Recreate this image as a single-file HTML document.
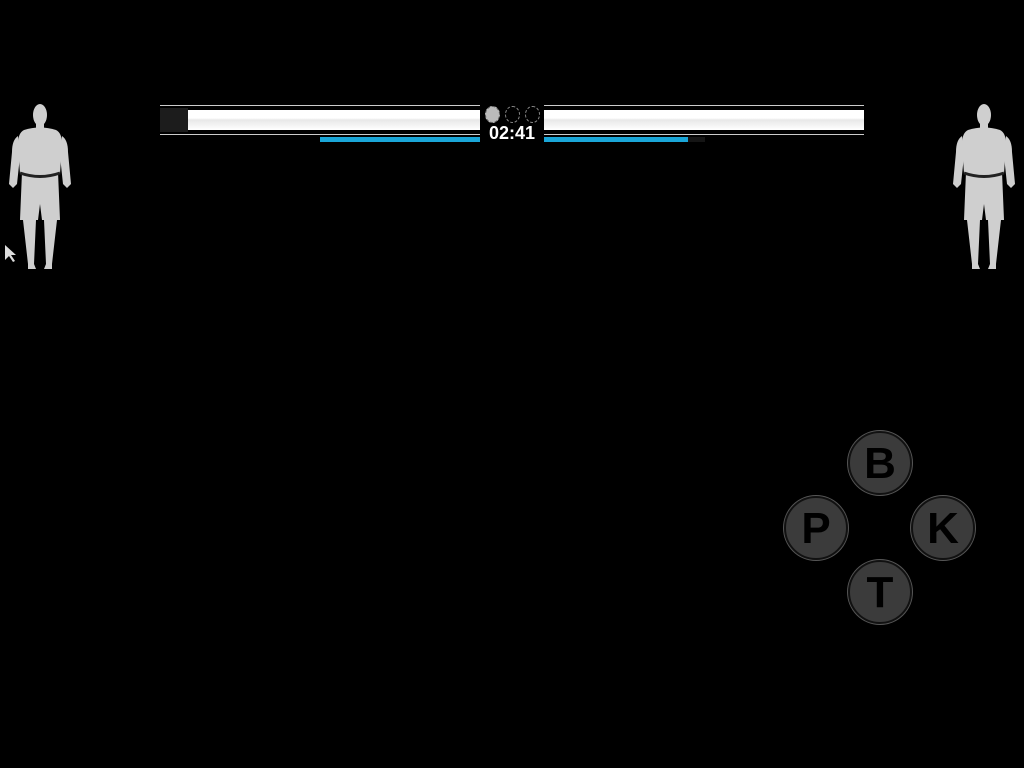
<!DOCTYPE html>
<html><head><style>
body{margin:0;background:#000;width:1024px;height:768px;overflow:hidden;position:relative;font-family:"Liberation Sans",sans-serif}
.a{position:absolute}
.btn{position:absolute;width:60px;height:60px;border-radius:50%;background:#3b3b3b;border:2px solid #111;box-shadow:0 0 0 1px #555;color:#000;font-size:44px;font-weight:bold;text-align:center;line-height:62px}
</style></head><body>
<div class="a" style="left:160px;top:105px;width:320px;height:28px;border-top:1px solid #ccc;border-bottom:1px solid #ccc;background:#000"></div>
<div class="a" style="left:160px;top:108px;width:28px;height:24px;background:#1c1c1c"></div>
<div class="a" style="left:188px;top:110px;width:292px;height:20px;background:linear-gradient(#fff 0,#fff 40%,#e8e8e8 50%,#fff 100%)"></div>
<div class="a" style="left:544px;top:105px;width:320px;height:28px;border-top:1px solid #ccc;border-bottom:1px solid #ccc;background:#000"></div>
<div class="a" style="left:544px;top:110px;width:320px;height:20px;background:linear-gradient(#fff 0,#fff 40%,#e8e8e8 50%,#fff 100%)"></div>
<div class="a" style="left:320px;top:137px;width:160px;height:5px;background:#1aa6d8"></div>
<div class="a" style="left:544px;top:137px;width:161px;height:5px;background:#151515"></div>
<div class="a" style="left:544px;top:137px;width:144px;height:5px;background:#1aa6d8"></div>
<div class="a" style="left:485px;top:106px;width:13px;height:15px;border-radius:50%;background:#bbb;border:1px dashed #666"></div>
<div class="a" style="left:505px;top:106px;width:13px;height:15px;border-radius:50%;border:1px dashed #888"></div>
<div class="a" style="left:525px;top:106px;width:13px;height:15px;border-radius:50%;border:1px dashed #888"></div>
<div class="a" style="left:480px;top:123px;width:64px;text-align:center;color:#fff;font-size:18px;font-weight:bold">02:41</div>
<svg class="a" style="left:0;top:100px" width="80" height="175" viewBox="0 0 80 175">
<g fill="#cfcfcf">
<ellipse cx="40" cy="15" rx="7" ry="11"/>
<rect x="36" y="22" width="8" height="8"/>
<path d="M24 30 Q40 25 56 30 Q62 33 62 44 L60 74 L20 74 L18 44 Q18 33 24 30Z"/>
<path d="M18 36 Q12 40 12 52 L9 84 L13 88 L17 84 L20 56Z"/>
<path d="M62 36 Q68 40 68 52 L71 84 L67 88 L63 84 L60 56Z"/>
<path d="M22 72 L58 72 L60 120 L42 120 L40 104 L38 120 L20 120Z"/>
<path d="M23 120 L36 120 L34 164 L36 169 L28 169 L28 164Z"/>
<path d="M44 120 L57 120 L52 164 L52 169 L44 169 L46 164Z"/>
</g>
<path d="M20 73 Q40 80 60 73" stroke="#222" stroke-width="3" fill="none"/>
<path d="M5 145 L5 160 L9 156 L13 162 L15 161 L11 155 L16 155Z" fill="#ddd"/>
</svg>
<svg class="a" style="left:944px;top:100px" width="80" height="175" viewBox="0 0 80 175">
<g fill="#cfcfcf">
<ellipse cx="40" cy="15" rx="7" ry="11"/>
<rect x="36" y="22" width="8" height="8"/>
<path d="M24 30 Q40 25 56 30 Q62 33 62 44 L60 74 L20 74 L18 44 Q18 33 24 30Z"/>
<path d="M18 36 Q12 40 12 52 L9 84 L13 88 L17 84 L20 56Z"/>
<path d="M62 36 Q68 40 68 52 L71 84 L67 88 L63 84 L60 56Z"/>
<path d="M22 72 L58 72 L60 120 L42 120 L40 104 L38 120 L20 120Z"/>
<path d="M23 120 L36 120 L34 164 L36 169 L28 169 L28 164Z"/>
<path d="M44 120 L57 120 L52 164 L52 169 L44 169 L46 164Z"/>
</g>
<path d="M20 73 Q40 80 60 73" stroke="#222" stroke-width="3" fill="none"/>
</svg>
<div class="btn" style="left:848px;top:431px">B</div>
<div class="btn" style="left:784px;top:496px">P</div>
<div class="btn" style="left:911px;top:496px">K</div>
<div class="btn" style="left:848px;top:560px">T</div>
</body></html>
